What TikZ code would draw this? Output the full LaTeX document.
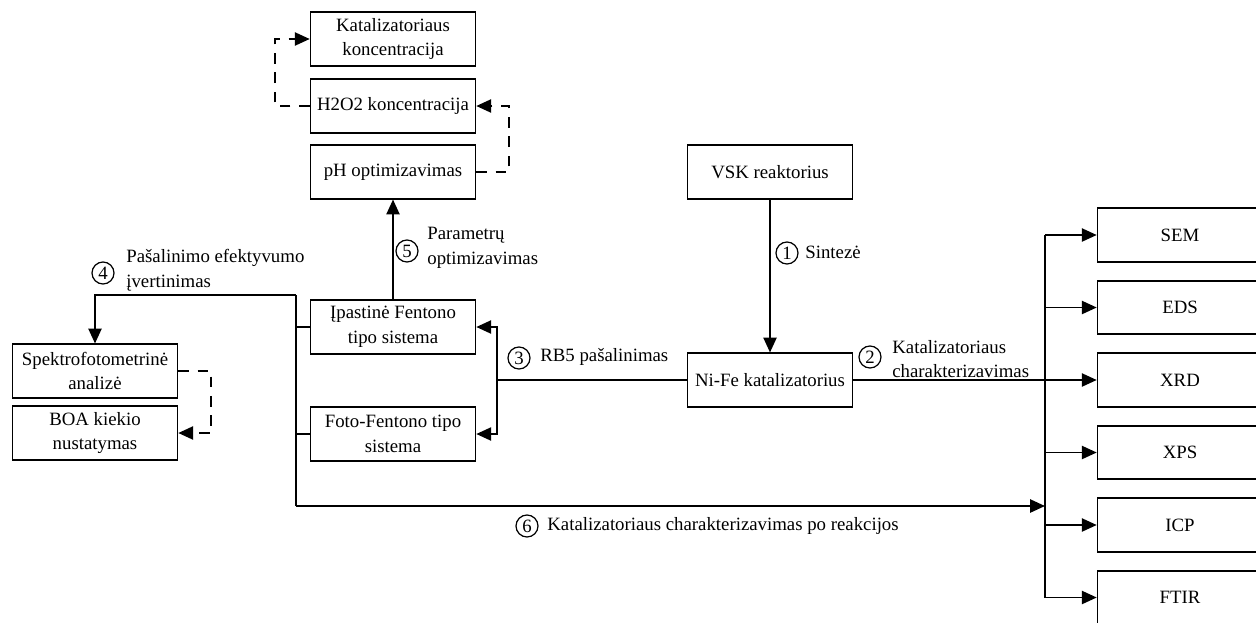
\documentclass[tikz,border=0pt]{standalone}
\usepackage{fontspec}
\setmainfont{Liberation Serif}
\usetikzlibrary{arrows.meta}

\tikzset{
  box/.style={draw, line width=0.9pt, minimum width=3.3cm, minimum height=1.07cm, align=center, inner sep=2pt},
  con/.style={line width=1.1pt},
  arr/.style={con, -{Triangle[length=8.5pt,width=7.5pt]}},
  fb/.style={arr, dash pattern=on 6pt off 5pt},
  num/.style={circle, draw, line width=0.7pt, minimum size=0.44cm, inner sep=0pt},
  lbl/.style={anchor=west, align=left, inner sep=0pt},
}

\begin{document}
\begin{tikzpicture}[x=0.02cm, y=-0.02cm, font=\fontsize{10.7}{14}\selectfont]
\useasboundingbox (0,0) rectangle (1256,622);
\clip (0,0) rectangle (1256,622);

% parametru optimizavimas
\node[box] (katkonc) at (393,39) {Katalizatoriaus\\koncentracija};
\node[box] (h2o2) at (393,106) {H2O2 koncentracija};
\node[box] (ph) at (393,172) {pH optimizavimas};

% sinteze
\node[box] (vsk) at (770,172) {VSK reaktorius};
\node[box] (nife) at (770,380) {Ni-Fe katalizatorius};

% sistemos
\node[box] (iprast) at (393,327) {Įpastinė Fentono\\tipo sistema};
\node[box] (foto) at (393,434) {Foto-Fentono tipo\\sistema};

% analize
\node[box] (spektro) at (95,371) {Spektrofotometrinė\\analizė};
\node[box] (boa) at (95,433) {BOA kiekio\\nustatymas};

% charakterizavimas
\node[box] (sem) at (1180,235) {SEM};
\node[box] (eds) at (1180,307.5) {EDS};
\node[box] (xrd) at (1180,380) {XRD};
\node[box] (xps) at (1180,452.5) {XPS};
\node[box] (icp) at (1180,525) {ICP};
\node[box] (ftir) at (1180,597.5) {FTIR};

\coordinate (split) at (497,380);
\coordinate (ltop) at (296,295);
\coordinate (lbot) at (296,506);
\coordinate (rbus) at (1045,506);

% 1
\draw[arr] (vsk) -- (nife);
\node[num] (n1) at (787,253) {1};
\node[lbl] (l1) at (805,252) {Sintezė};

% 2
\draw[con] (nife) -- (xrd.west -| rbus);
\draw[con] (sem.west -| rbus) -- (ftir.west -| rbus);
\draw[arr] (sem.west -| rbus) -- (sem);
\draw[arr] (eds.west -| rbus) -- (eds);
\draw[arr] (xrd.west -| rbus) -- (xrd);
\draw[arr] (xps.west -| rbus) -- (xps);
\draw[arr] (icp.west -| rbus) -- (icp);
\draw[arr] (ftir.west -| rbus) -- (ftir);
\node[num] (n2) at (870,357) {2};
\node[lbl] (l2) at (892,359) {Katalizatoriaus\\charakterizavimas};

% 3
\draw[con] (nife) -- (split);
\draw[arr] (split) |- (iprast);
\draw[arr] (split) |- (foto);
\node[num] (n3) at (519,358) {3};
\node[lbl] (l3) at (540,357) {RB5 pašalinimas};

% 4
\draw[con] (iprast.west) -- (iprast.west -| ltop);
\draw[con] (foto.west) -- (foto.west -| ltop);
\draw[con] (lbot) -- (ltop);
\draw[arr] (ltop) -| (spektro);
\node[num] (n4) at (103,273) {4};
\node[lbl] (l4) at (126,270) {Pašalinimo efektyvumo\\įvertinimas};

% 5
\draw[arr] (iprast) -- (ph);
\node[num] (n5) at (407,251) {5};
\node[lbl] (l5) at (427,248) {Parametrų\\optimizavimas};

% 6
\draw[arr] (lbot) -- (rbus);
\node[num] (n6) at (527,526) {6};
\node[lbl] (l6) at (547,526) {Katalizatoriaus charakterizavimas po reakcijos};

% grizdamieji rysiai
\draw[fb] (h2o2.west) -- ++(-35,0) |- (katkonc.west);
\draw[fb] (ph.east) -- ++(33,0) |- (h2o2.east);
\draw[fb] (spektro.east) -- ++(33,0) |- (boa.east);
\end{tikzpicture}
\end{document}
